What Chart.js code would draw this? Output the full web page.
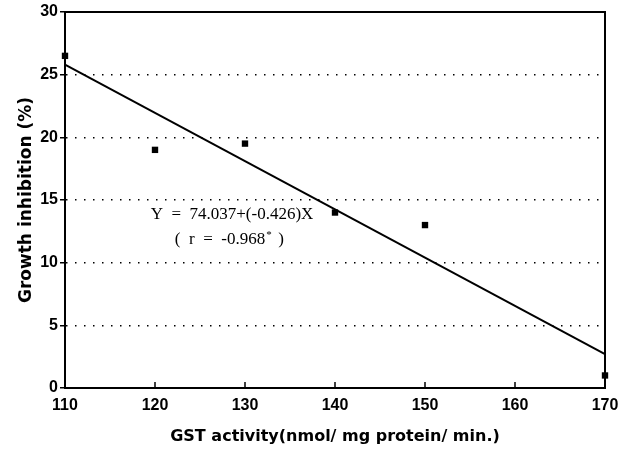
<!DOCTYPE html>
<html>
<head>
<meta charset="utf-8">
<script src="https://cdn.jsdelivr.net/npm/chart.js@4/dist/chart.umd.min.js"></script>
<style>
  html, body { margin: 0; padding: 0; background: #fff; }
  #wrap { width: 629px; height: 450px; }
</style>
</head>
<body>
<div id="wrap"><canvas id="gstChart" width="629" height="450"></canvas></div>
<script>
// measured values
const gstActivity = [110, 120, 130, 140, 150, 170];
const growthInhibition = [26.5, 19, 19.5, 14, 13, 1];
// regression line as drawn (end points)
const fitX = [110, 170];
const fitY = [25.8, 2.7];
const xTicks = [110, 120, 130, 140, 150, 160, 170];
const yTicks = [0, 5, 10, 15, 20, 25, 30];

const tickFont = { family: 'Liberation Sans, Arial, sans-serif', size: 16, weight: 'bold' };
const titleFont = { family: 'DejaVu Sans, sans-serif', size: 16, weight: 'bold' };

// frame, inward x ticks and the equation text
const extras = {
    id: 'extras',
    afterDatasetsDraw(chart) {
        const ctx = chart.ctx;
        const a = chart.chartArea;
        const x = chart.scales.x;
        ctx.save();
        ctx.strokeStyle = '#000';
        ctx.lineWidth = 2;
        ctx.beginPath();
        ctx.moveTo(a.left, a.top);
        ctx.lineTo(a.right, a.top);
        ctx.lineTo(a.right, a.bottom);
        ctx.stroke();
        ctx.lineWidth = 1.5;
        xTicks.slice(1, -1).forEach(v => {
            const px = x.getPixelForValue(v);
            ctx.beginPath();
            ctx.moveTo(px, a.bottom);
            ctx.lineTo(px, a.bottom - 6);
            ctx.stroke();
        });
        ctx.fillStyle = '#000';
        ctx.font = '17px "Liberation Serif", serif';
        ctx.textAlign = 'center';
        ctx.textBaseline = 'middle';
        ctx.fillText('Y  =  74.037+(-0.426)X', 232, 215);
        ctx.textAlign = 'left';
        const s1 = '(  r  =  -0.968';
        const w1 = ctx.measureText(s1).width;
        const start = 230 - (w1 + 20) / 2;
        ctx.fillText(s1, start, 240);
        ctx.font = '11px "Liberation Serif", serif';
        ctx.fillText('*', start + w1 + 1, 235);
        ctx.font = '17px "Liberation Serif", serif';
        ctx.fillText(')', start + w1 + 13, 240);
        ctx.restore();
    }
};

new Chart(document.getElementById('gstChart').getContext('2d'), {
    type: 'scatter',
    data: {
        datasets: [{
            label: 'Growth inhibition',
            data: gstActivity.map((v, i) => ({ x: v, y: growthInhibition[i] })),
            pointStyle: 'rect',
            radius: 4.5,
            backgroundColor: '#000',
            borderColor: '#000',
            borderWidth: 0,
            clip: false
        }, {
            label: 'Fit',
            type: 'line',
            data: fitX.map((v, i) => ({ x: v, y: fitY[i] })),
            borderColor: '#000',
            borderWidth: 2,
            pointRadius: 0,
            fill: false
        }]
    },
    options: {
        responsive: false,
        animation: false,
        layout: { padding: { left: 12, right: 24, top: 12, bottom: 0 } },
        plugins: {
            legend: { display: false },
            tooltip: { enabled: false }
        },
        scales: {
            x: {
                type: 'linear',
                min: 110,
                max: 170,
                afterBuildTicks: s => { s.ticks = xTicks.map(v => ({ value: v })); },
                afterFit: s => { s.height = 62; },
                grid: { display: false, drawTicks: false },
                border: { display: true, color: '#000', width: 2 },
                ticks: { color: '#000', font: tickFont, padding: 8, maxRotation: 0 },
                title: {
                    display: true,
                    text: 'GST activity(nmol/ mg protein/ min.)',
                    color: '#000',
                    font: titleFont,
                    padding: { top: 12 }
                }
            },
            y: {
                min: 0,
                max: 30,
                afterBuildTicks: s => { s.ticks = yTicks.map(v => ({ value: v })); },
                afterFit: s => { s.width = 53; },
                grid: {
                    color: c => (c.tick && (c.tick.value === 0 || c.tick.value === 30)) ? 'rgba(0,0,0,0)' : '#000',
                    lineWidth: 1.5,
                    drawTicks: true,
                    tickLength: 5,
                    tickColor: '#000',
                    tickWidth: 1.5
                },
                border: { display: true, color: '#000', width: 2, dash: [1.5, 7.5] },
                ticks: { color: '#000', font: tickFont, padding: 2 },
                title: {
                    display: true,
                    text: 'Growth inhibition (%)',
                    color: '#000',
                    font: { family: 'DejaVu Sans, sans-serif', size: 17, weight: 'bold' },
                    padding: { bottom: 6 }
                }
            }
        }
    },
    plugins: [extras]
});
</script>
</body>
</html>
